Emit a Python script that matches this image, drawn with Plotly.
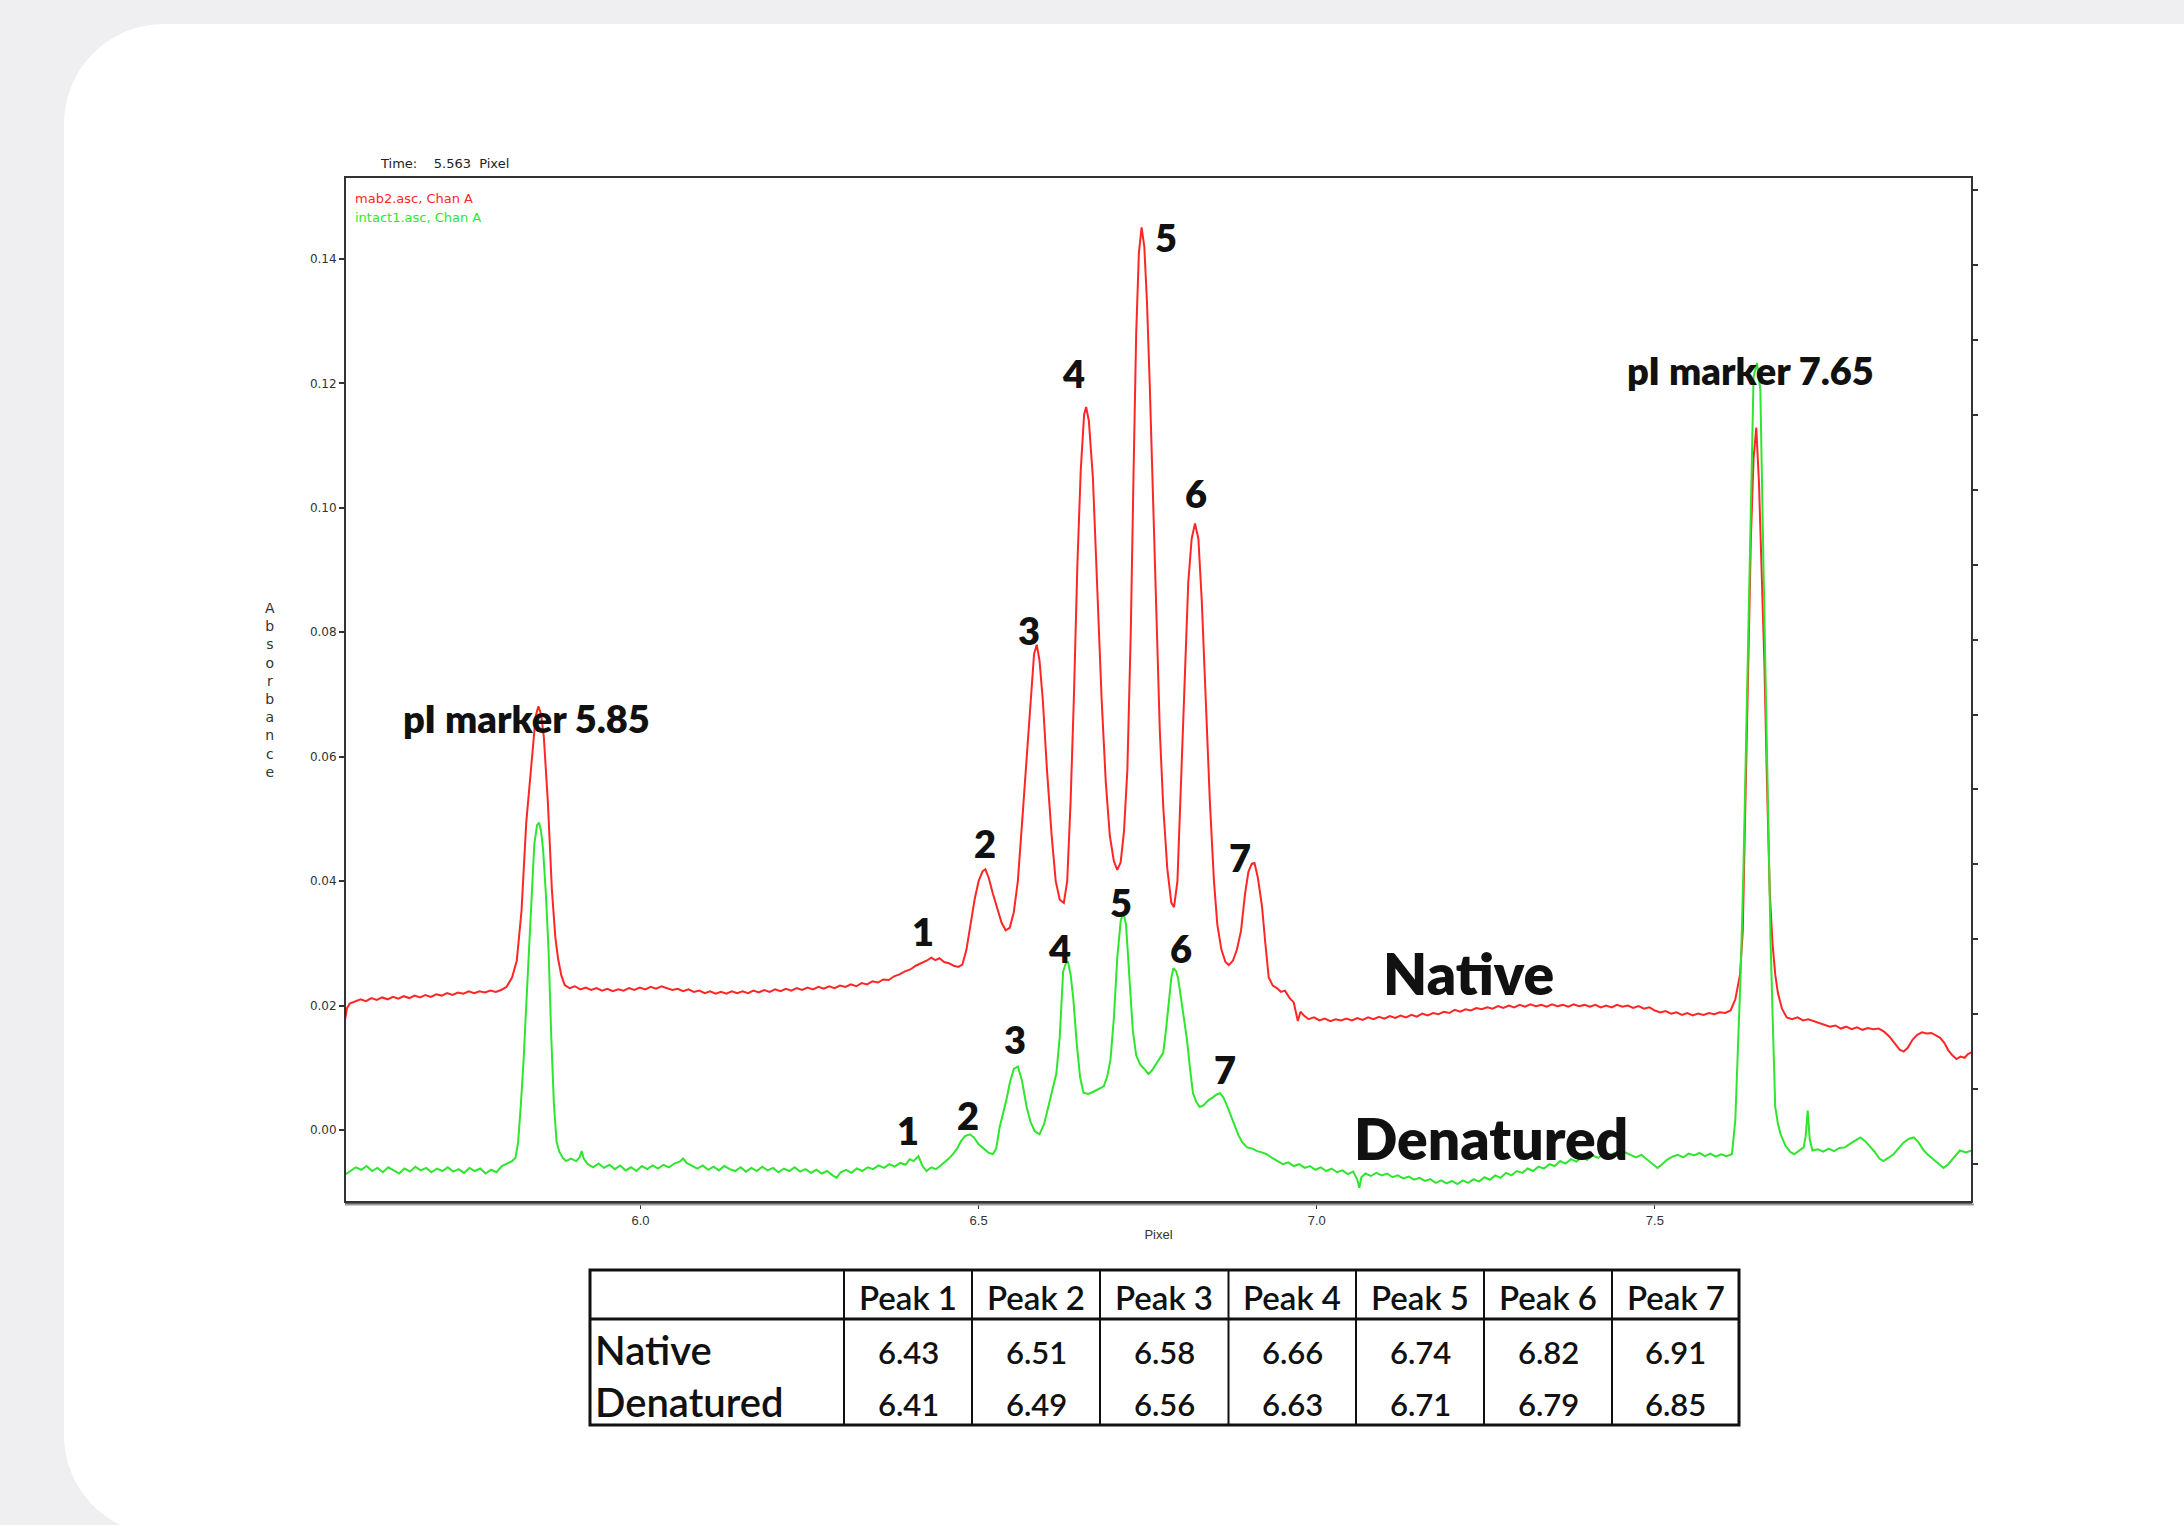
import plotly.graph_objects as go

# ---------------- data ----------------
native_x = [5.563, 5.566, 5.570, 5.578, 5.586, 5.594, 5.602, 5.610, 5.618, 5.626, 5.634, 5.642, 5.650, 5.658,
            5.666, 5.674, 5.682, 5.690, 5.698, 5.706, 5.714, 5.722, 5.730, 5.738, 5.746, 5.754, 5.762, 5.770,
            5.778, 5.786, 5.794, 5.802, 5.810, 5.817, 5.824, 5.831, 5.839, 5.845, 5.849, 5.853, 5.857, 5.863,
            5.869, 5.874, 5.878, 5.883, 5.888, 5.895, 5.903, 5.911, 5.919, 5.927, 5.935, 5.943, 5.951, 5.959,
            5.967, 5.975, 5.983, 5.991, 5.999, 6.007, 6.015, 6.023, 6.031, 6.039, 6.047, 6.055, 6.063, 6.071,
            6.079, 6.087, 6.095, 6.103, 6.111, 6.119, 6.127, 6.135, 6.143, 6.151, 6.159, 6.167, 6.175, 6.183,
            6.191, 6.199, 6.207, 6.215, 6.223, 6.231, 6.239, 6.247, 6.255, 6.263, 6.271, 6.279, 6.287, 6.295,
            6.303, 6.311, 6.319, 6.327, 6.335, 6.343, 6.351, 6.359, 6.367, 6.375, 6.383, 6.391, 6.399, 6.407,
            6.415, 6.423, 6.430, 6.436, 6.442, 6.449, 6.456, 6.463, 6.470, 6.476, 6.482, 6.488, 6.494, 6.500,
            6.506, 6.510, 6.515, 6.521, 6.527, 6.534, 6.540, 6.546, 6.552, 6.558, 6.564, 6.571, 6.577, 6.582,
            6.586, 6.590, 6.595, 6.601, 6.608, 6.614, 6.620, 6.626, 6.631, 6.636, 6.641, 6.646, 6.651, 6.656,
            6.659, 6.663, 6.669, 6.675, 6.682, 6.688, 6.694, 6.700, 6.705, 6.710, 6.715, 6.720, 6.725, 6.729,
            6.733, 6.737, 6.741, 6.745, 6.749, 6.753, 6.758, 6.763, 6.768, 6.773, 6.779, 6.785, 6.789, 6.794,
            6.799, 6.804, 6.810, 6.815, 6.820, 6.825, 6.830, 6.836, 6.842, 6.848, 6.853, 6.859, 6.865, 6.870,
            6.876, 6.882, 6.888, 6.894, 6.899, 6.904, 6.908, 6.913, 6.919, 6.924, 6.929, 6.935, 6.941, 6.947,
            6.953, 6.960, 6.966, 6.972, 6.976, 6.981, 6.988, 6.996, 7.004, 7.012, 7.020, 7.028, 7.036, 7.044,
            7.052, 7.060, 7.068, 7.076, 7.084, 7.092, 7.100, 7.108, 7.116, 7.124, 7.132, 7.140, 7.148, 7.156,
            7.164, 7.172, 7.180, 7.188, 7.196, 7.204, 7.212, 7.220, 7.228, 7.236, 7.244, 7.252, 7.260, 7.268,
            7.276, 7.284, 7.292, 7.300, 7.308, 7.316, 7.324, 7.332, 7.340, 7.348, 7.356, 7.364, 7.372, 7.380,
            7.388, 7.396, 7.404, 7.412, 7.420, 7.428, 7.436, 7.444, 7.452, 7.460, 7.468, 7.476, 7.484, 7.492,
            7.500, 7.508, 7.516, 7.524, 7.532, 7.540, 7.548, 7.556, 7.564, 7.572, 7.580, 7.588, 7.596, 7.604,
            7.612, 7.619, 7.626, 7.630, 7.634, 7.638, 7.642, 7.646, 7.650, 7.654, 7.658, 7.662, 7.666, 7.670,
            7.674, 7.678, 7.682, 7.688, 7.695, 7.703, 7.711, 7.719, 7.727, 7.735, 7.743, 7.751, 7.759, 7.767,
            7.775, 7.783, 7.791, 7.799, 7.807, 7.815, 7.823, 7.831, 7.839, 7.847, 7.855, 7.862, 7.868, 7.874,
            7.881, 7.888, 7.895, 7.902, 7.909, 7.916, 7.922, 7.928, 7.934, 7.940, 7.946, 7.952, 7.958, 7.963,
            7.969]
native_y = [0.0177, 0.0196, 0.0203, 0.0206, 0.0210, 0.0207, 0.0212, 0.0209, 0.0213, 0.0210, 0.0214, 0.0211, 0.0215, 0.0212,
            0.0216, 0.0213, 0.0217, 0.0214, 0.0218, 0.0216, 0.0220, 0.0217, 0.0221, 0.0219, 0.0223, 0.0220, 0.0223, 0.0221,
            0.0224, 0.0222, 0.0225, 0.0230, 0.0245, 0.0272, 0.0352, 0.0494, 0.0600, 0.0665, 0.0681, 0.0668, 0.0632, 0.0527,
            0.0385, 0.0310, 0.0276, 0.0248, 0.0233, 0.0228, 0.0231, 0.0226, 0.0229, 0.0225, 0.0228, 0.0224, 0.0227, 0.0223,
            0.0226, 0.0224, 0.0228, 0.0225, 0.0229, 0.0226, 0.0230, 0.0227, 0.0231, 0.0228, 0.0225, 0.0227, 0.0223, 0.0226,
            0.0222, 0.0224, 0.0220, 0.0223, 0.0219, 0.0222, 0.0219, 0.0223, 0.0220, 0.0223, 0.0220, 0.0224, 0.0221, 0.0225,
            0.0222, 0.0226, 0.0223, 0.0227, 0.0224, 0.0228, 0.0225, 0.0229, 0.0226, 0.0230, 0.0227, 0.0231, 0.0228, 0.0232,
            0.0230, 0.0234, 0.0231, 0.0236, 0.0234, 0.0239, 0.0237, 0.0242, 0.0241, 0.0247, 0.0250, 0.0255, 0.0258, 0.0264,
            0.0268, 0.0272, 0.0277, 0.0273, 0.0276, 0.0270, 0.0268, 0.0264, 0.0262, 0.0266, 0.0290, 0.0330, 0.0370, 0.0400,
            0.0416, 0.0419, 0.0405, 0.0380, 0.0358, 0.0333, 0.0321, 0.0325, 0.0350, 0.0400, 0.0490, 0.0600, 0.0700, 0.0765,
            0.0780, 0.0755, 0.0690, 0.0580, 0.0473, 0.0400, 0.0370, 0.0365, 0.0400, 0.0527, 0.0700, 0.0907, 0.1060, 0.1150,
            0.1162, 0.1140, 0.1048, 0.0880, 0.0690, 0.0560, 0.0473, 0.0432, 0.0418, 0.0430, 0.0480, 0.0580, 0.0800, 0.1050,
            0.1280, 0.1410, 0.1451, 0.1420, 0.1330, 0.1200, 0.1000, 0.0820, 0.0640, 0.0520, 0.0420, 0.0365, 0.0358, 0.0400,
            0.0540, 0.0700, 0.0880, 0.0950, 0.0975, 0.0950, 0.0850, 0.0680, 0.0527, 0.0400, 0.0330, 0.0290, 0.0270, 0.0265,
            0.0272, 0.0290, 0.0320, 0.0380, 0.0415, 0.0428, 0.0429, 0.0405, 0.0360, 0.0300, 0.0245, 0.0232, 0.0228, 0.0222,
            0.0224, 0.0212, 0.0205, 0.0175, 0.0190, 0.0184, 0.0178, 0.0181, 0.0176, 0.0179, 0.0175, 0.0178, 0.0176, 0.0179,
            0.0176, 0.0180, 0.0177, 0.0181, 0.0178, 0.0182, 0.0179, 0.0183, 0.0180, 0.0184, 0.0181, 0.0185, 0.0182, 0.0187,
            0.0184, 0.0188, 0.0186, 0.0190, 0.0188, 0.0193, 0.0190, 0.0194, 0.0192, 0.0196, 0.0194, 0.0197, 0.0195, 0.0199,
            0.0196, 0.0200, 0.0197, 0.0201, 0.0198, 0.0202, 0.0199, 0.0201, 0.0198, 0.0202, 0.0199, 0.0201, 0.0198, 0.0202,
            0.0199, 0.0201, 0.0198, 0.0201, 0.0197, 0.0200, 0.0197, 0.0201, 0.0198, 0.0200, 0.0196, 0.0199, 0.0195, 0.0197,
            0.0192, 0.0189, 0.0191, 0.0187, 0.0189, 0.0185, 0.0188, 0.0184, 0.0187, 0.0185, 0.0188, 0.0186, 0.0189, 0.0188,
            0.0192, 0.0210, 0.0250, 0.0320, 0.0550, 0.0720, 0.0950, 0.1080, 0.1129, 0.1040, 0.0900, 0.0750, 0.0550, 0.0380,
            0.0300, 0.0250, 0.0220, 0.0195, 0.0181, 0.0178, 0.0181, 0.0176, 0.0178, 0.0175, 0.0172, 0.0169, 0.0166, 0.0168,
            0.0163, 0.0166, 0.0162, 0.0165, 0.0161, 0.0164, 0.0162, 0.0163, 0.0158, 0.0150, 0.0138, 0.0129, 0.0126, 0.0132,
            0.0145, 0.0153, 0.0157, 0.0155, 0.0156, 0.0151, 0.0148, 0.0140, 0.0128, 0.0120, 0.0114, 0.0118, 0.0116, 0.0122,
            0.0125]

denatured_x = [5.563, 5.571, 5.579, 5.587, 5.595, 5.603, 5.611, 5.619, 5.627, 5.635, 5.643, 5.651, 5.659, 5.667,
               5.675, 5.683, 5.691, 5.699, 5.707, 5.715, 5.723, 5.731, 5.739, 5.747, 5.755, 5.763, 5.771, 5.779,
               5.787, 5.795, 5.803, 5.810, 5.815, 5.819, 5.823, 5.827, 5.831, 5.835, 5.839, 5.843, 5.847, 5.850,
               5.853, 5.856, 5.860, 5.864, 5.868, 5.872, 5.876, 5.880, 5.885, 5.890, 5.897, 5.905, 5.910, 5.913,
               5.916, 5.922, 5.930, 5.938, 5.946, 5.954, 5.962, 5.970, 5.978, 5.986, 5.994, 6.002, 6.010, 6.018,
               6.026, 6.034, 6.042, 6.050, 6.058, 6.063, 6.068, 6.076, 6.084, 6.092, 6.100, 6.108, 6.116, 6.124,
               6.132, 6.140, 6.148, 6.156, 6.164, 6.172, 6.180, 6.188, 6.196, 6.204, 6.212, 6.220, 6.228, 6.236,
               6.244, 6.252, 6.260, 6.268, 6.276, 6.284, 6.290, 6.296, 6.304, 6.312, 6.320, 6.328, 6.336, 6.344,
               6.352, 6.360, 6.368, 6.376, 6.384, 6.392, 6.398, 6.404, 6.411, 6.417, 6.423, 6.430, 6.437, 6.443,
               6.450, 6.456, 6.462, 6.468, 6.474, 6.480, 6.487, 6.493, 6.500, 6.507, 6.514, 6.521, 6.526, 6.531,
               6.536, 6.541, 6.546, 6.552, 6.558, 6.564, 6.571, 6.577, 6.583, 6.590, 6.597, 6.605, 6.610, 6.615,
               6.620, 6.625, 6.629, 6.632, 6.636, 6.640, 6.645, 6.650, 6.655, 6.662, 6.669, 6.677, 6.685, 6.690,
               6.695, 6.700, 6.705, 6.710, 6.714, 6.718, 6.723, 6.728, 6.733, 6.739, 6.745, 6.751, 6.756, 6.762,
               6.768, 6.773, 6.777, 6.781, 6.785, 6.788, 6.792, 6.795, 6.801, 6.808, 6.813, 6.817, 6.822, 6.827,
               6.833, 6.840, 6.846, 6.852, 6.857, 6.862, 6.867, 6.872, 6.878, 6.884, 6.890, 6.897, 6.905, 6.912,
               6.919, 6.926, 6.934, 6.942, 6.950, 6.958, 6.966, 6.974, 6.982, 6.990, 6.998, 7.006, 7.014, 7.022,
               7.030, 7.038, 7.046, 7.054, 7.060, 7.063, 7.066, 7.072, 7.080, 7.088, 7.096, 7.104, 7.112, 7.120,
               7.128, 7.136, 7.144, 7.152, 7.160, 7.168, 7.176, 7.184, 7.192, 7.200, 7.208, 7.216, 7.224, 7.232,
               7.240, 7.248, 7.256, 7.264, 7.272, 7.280, 7.288, 7.296, 7.304, 7.312, 7.320, 7.328, 7.336, 7.344,
               7.352, 7.360, 7.368, 7.376, 7.384, 7.392, 7.400, 7.408, 7.416, 7.424, 7.432, 7.440, 7.448, 7.456,
               7.464, 7.472, 7.480, 7.488, 7.496, 7.504, 7.510, 7.518, 7.526, 7.534, 7.542, 7.550, 7.558, 7.566,
               7.574, 7.582, 7.590, 7.598, 7.606, 7.614, 7.619, 7.623, 7.627, 7.631, 7.636, 7.641, 7.646, 7.651,
               7.656, 7.661, 7.666, 7.671, 7.675, 7.678, 7.682, 7.686, 7.693, 7.700, 7.706, 7.713, 7.720, 7.723,
               7.726, 7.729, 7.733, 7.741, 7.749, 7.757, 7.765, 7.773, 7.781, 7.789, 7.797, 7.804, 7.811, 7.818,
               7.825, 7.832, 7.838, 7.845, 7.853, 7.860, 7.868, 7.876, 7.883, 7.890, 7.897, 7.903, 7.910, 7.918,
               7.927, 7.934, 7.942, 7.951, 7.960, 7.969]
denatured_y = [-0.0072, -0.0066, -0.0060, -0.0064, -0.0058, -0.0066, -0.0061, -0.0068, -0.0060, -0.0065, -0.0070, -0.0062, -0.0067, -0.0059,
               -0.0065, -0.0061, -0.0068, -0.0062, -0.0066, -0.0060, -0.0067, -0.0063, -0.0069, -0.0061, -0.0066, -0.0062, -0.0070, -0.0064,
               -0.0068, -0.0058, -0.0054, -0.0050, -0.0045, -0.0020, 0.0040, 0.0110, 0.0200, 0.0290, 0.0380, 0.0460, 0.0490, 0.0494,
               0.0480, 0.0450, 0.0380, 0.0290, 0.0150, 0.0040, -0.0020, -0.0035, -0.0045, -0.0050, -0.0046, -0.0050, -0.0044, -0.0034,
               -0.0046, -0.0055, -0.0060, -0.0054, -0.0061, -0.0056, -0.0063, -0.0057, -0.0065, -0.0060, -0.0066, -0.0058, -0.0063, -0.0057,
               -0.0062, -0.0056, -0.0060, -0.0054, -0.0051, -0.0046, -0.0053, -0.0058, -0.0062, -0.0057, -0.0064, -0.0059, -0.0065, -0.0058,
               -0.0063, -0.0066, -0.0060, -0.0067, -0.0061, -0.0066, -0.0059, -0.0065, -0.0061, -0.0068, -0.0062, -0.0066, -0.0060, -0.0067,
               -0.0063, -0.0069, -0.0064, -0.0070, -0.0066, -0.0073, -0.0077, -0.0068, -0.0064, -0.0069, -0.0062, -0.0066, -0.0060, -0.0063,
               -0.0057, -0.0061, -0.0055, -0.0059, -0.0053, -0.0056, -0.0047, -0.0050, -0.0042, -0.0058, -0.0066, -0.0060, -0.0063, -0.0058,
               -0.0052, -0.0046, -0.0039, -0.0030, -0.0018, -0.0010, -0.0007, -0.0012, -0.0023, -0.0030, -0.0036, -0.0039, -0.0030, 0.0004,
               0.0025, 0.0048, 0.0075, 0.0098, 0.0102, 0.0080, 0.0037, 0.0012, -0.0002, -0.0007, 0.0010, 0.0048, 0.0070, 0.0091,
               0.0150, 0.0255, 0.0268, 0.0271, 0.0250, 0.0211, 0.0140, 0.0085, 0.0060, 0.0058, 0.0061, 0.0066, 0.0070, 0.0085,
               0.0113, 0.0180, 0.0276, 0.0335, 0.0350, 0.0330, 0.0250, 0.0160, 0.0120, 0.0105, 0.0098, 0.0090, 0.0095, 0.0105,
               0.0115, 0.0124, 0.0160, 0.0200, 0.0245, 0.0260, 0.0255, 0.0244, 0.0200, 0.0146, 0.0095, 0.0059, 0.0045, 0.0037,
               0.0040, 0.0048, 0.0052, 0.0057, 0.0059, 0.0052, 0.0040, 0.0026, 0.0010, -0.0008, -0.0020, -0.0028, -0.0030, -0.0034,
               -0.0036, -0.0039, -0.0045, -0.0050, -0.0055, -0.0052, -0.0058, -0.0055, -0.0061, -0.0058, -0.0064, -0.0060, -0.0066, -0.0062,
               -0.0068, -0.0065, -0.0071, -0.0067, -0.0080, -0.0093, -0.0076, -0.0070, -0.0074, -0.0069, -0.0073, -0.0070, -0.0076, -0.0073,
               -0.0078, -0.0075, -0.0080, -0.0077, -0.0082, -0.0079, -0.0085, -0.0081, -0.0086, -0.0082, -0.0087, -0.0081, -0.0085, -0.0079,
               -0.0083, -0.0076, -0.0080, -0.0073, -0.0077, -0.0069, -0.0073, -0.0066, -0.0069, -0.0062, -0.0066, -0.0059, -0.0062, -0.0055,
               -0.0058, -0.0050, -0.0054, -0.0047, -0.0051, -0.0044, -0.0048, -0.0041, -0.0045, -0.0039, -0.0043, -0.0037, -0.0041, -0.0036,
               -0.0040, -0.0044, -0.0040, -0.0047, -0.0053, -0.0061, -0.0056, -0.0048, -0.0043, -0.0040, -0.0044, -0.0038, -0.0041, -0.0037,
               -0.0042, -0.0038, -0.0043, -0.0039, -0.0042, -0.0039, 0.0016, 0.0140, 0.0255, 0.0418, 0.0689, 0.0929, 0.1211, 0.1233,
               0.1190, 0.0885, 0.0581, 0.0309, 0.0150, 0.0037, 0.0010, -0.0007, -0.0025, -0.0035, -0.0039, -0.0033, -0.0028, -0.0010,
               0.0031, -0.0015, -0.0033, -0.0031, -0.0035, -0.0030, -0.0034, -0.0029, -0.0028, -0.0022, -0.0016, -0.0012, -0.0018, -0.0027,
               -0.0035, -0.0046, -0.0050, -0.0045, -0.0039, -0.0030, -0.0020, -0.0014, -0.0012, -0.0020, -0.0032, -0.0039, -0.0045, -0.0053,
               -0.0061, -0.0055, -0.0045, -0.0033, -0.0036, -0.0033]

# peak labels on the traces (number, x, y)
peak_numbers = ["1", "2", "3", "4", "5", "6", "7"]
native_label_x = [6.418, 6.509, 6.575, 6.641, 6.777, 6.821, 6.887]
native_label_y = [0.0320, 0.0461, 0.0804, 0.1216, 0.1436, 0.1024, 0.0439]
denatured_label_x = [6.395, 6.484, 6.554, 6.620, 6.710, 6.800, 6.864]
denatured_label_y = [0.0000, 0.0024, 0.0146, 0.0293, 0.0366, 0.0293, 0.0098]

marker_labels = ["pI marker 5.85", "pI marker 7.65"]
marker_label_x = [5.831, 7.642]
marker_label_y = [0.0663, 0.1221]

trace_names = ["Native", "Denatured"]
trace_name_x = [7.224, 7.257]
trace_name_y = [0.0253, -0.0013]

legend_entries = ["mab2.asc, Chan A", "intact1.asc, Chan A"]

# table
table_headers = ["Peak 1", "Peak 2", "Peak 3", "Peak 4", "Peak 5", "Peak 6", "Peak 7"]
table_rows = ["Native", "Denatured"]
native_pI = [6.43, 6.51, 6.58, 6.66, 6.74, 6.82, 6.91]
denatured_pI = [6.41, 6.49, 6.56, 6.63, 6.71, 6.79, 6.85]

# ---------------- layout helpers ----------------
W, H = 2184, 1525
PL, PR, PT, PB = 345, 1972, 177, 1202
XR = [5.563, 7.969]
YR = [-0.01158, 0.15318]


def px(x):
    return (x - PL) / (PR - PL)


def py(y):
    return (PB - y) / (PB - PT)


RED = "#ff2626"
GREEN = "#2ee62e"
AX = "#333333"

fig = go.Figure()
fig.add_trace(go.Scatter(x=native_x, y=native_y, mode="lines", name="Native",
                         line=dict(color=RED, width=2), hoverinfo="skip"))
fig.add_trace(go.Scatter(x=denatured_x, y=denatured_y, mode="lines", name="Denatured",
                         line=dict(color=GREEN, width=2), yaxis="y2", hoverinfo="skip"))

shapes = []
# white card with rounded corners
k = 0.5523 * 100
card = [("M", 64, 124), ("C", 64, 124 - k, 164 - k, 24, 164, 24), ("L", 2400, 24), ("L", 2400, 1535),
        ("L", 164, 1535), ("C", 164 - k, 1535, 64, 1435 + k, 64, 1435), ("Z",)]
path = ""
for seg in card:
    path += seg[0]
    pts = seg[1:]
    for i in range(0, len(pts), 2):
        path += f" {px(pts[i]):.5f},{py(pts[i+1]):.5f}"
    path += " "
shapes.append(dict(type="path", xref="paper", yref="paper", path=path,
                   fillcolor="white", line=dict(width=0), layer="below"))
# plot frame
shapes.append(dict(type="rect", xref="paper", yref="paper", x0=0, x1=1, y0=0, y1=1,
                   line=dict(color=AX, width=2), layer="above"))
shapes.append(dict(type="line", xref="paper", yref="paper", x0=px(PL), x1=px(PR + 2),
                   y0=py(PB + 2.5), y1=py(PB + 2.5), line=dict(color="#9a9a9a", width=2)))

# table lines
TL, TR, TT, TB = 590, 1739, 1270, 1425
THDR = 1319
col_edges = [844, 972, 1100, 1228.5, 1356, 1484, 1612]
shapes.append(dict(type="rect", xref="paper", yref="paper", x0=px(TL), x1=px(TR), y0=py(TB), y1=py(TT),
                   line=dict(color="#111111", width=3)))
shapes.append(dict(type="line", xref="paper", yref="paper", x0=px(TL), x1=px(TR), y0=py(THDR), y1=py(THDR),
                   line=dict(color="#111111", width=3)))
for cx in col_edges:
    shapes.append(dict(type="line", xref="paper", yref="paper", x0=px(cx), x1=px(cx), y0=py(TB), y1=py(TT),
                       line=dict(color="#111111", width=2)))

ann = []
LBL = dict(family="Lato", size=38, color="#111111", weight=800)
for t, x, y in zip(peak_numbers, native_label_x, native_label_y):
    ann.append(dict(x=x, y=y, text=t, showarrow=False, font=LBL, xanchor="center", yanchor="middle"))
for t, x, y in zip(peak_numbers, denatured_label_x, denatured_label_y):
    ann.append(dict(x=x, y=y, text=t, showarrow=False, font=LBL, xanchor="center", yanchor="middle"))
for t, x, y in zip(marker_labels, marker_label_x, marker_label_y):
    ann.append(dict(x=x, y=y, text=t, showarrow=False, font=LBL, xanchor="center", yanchor="middle"))
for t, x, y in zip(trace_names, trace_name_x, trace_name_y):
    ann.append(dict(x=x, y=y, text=t, showarrow=False, xanchor="center", yanchor="middle",
                    font=dict(family="Lato", size=57, color="#111111", weight=800)))

# header text / legend
SMALL = "DejaVu Sans"
ann.append(dict(xref="paper", yref="paper", x=px(378), y=py(163), xanchor="left", yanchor="middle",
                text="Time:\u00a0\u00a0\u00a0 5.563\u00a0 Pixel", showarrow=False,
                font=dict(family=SMALL, size=13, color="#222222")))
for i, (t, c) in enumerate(zip(legend_entries, [RED, GREEN])):
    ann.append(dict(xref="paper", yref="paper", x=px(353), y=py(198 + 19 * i), xanchor="left", yanchor="middle",
                    text=t, showarrow=False, font=dict(family=SMALL, size=13, color=c)))
ann.append(dict(xref="paper", yref="paper", x=px(270), y=py(690), xanchor="center", yanchor="middle",
                text="<br>".join(list("Absorbance")), showarrow=False,
                font=dict(family=SMALL, size=14, color="#333333")))

# table text
TFONT = dict(family="Lato", color="#111111", weight=600)
col_centers = [(a + b) / 2 for a, b in zip(col_edges, col_edges[1:] + [TR])]
for t, cx in zip(table_headers, col_centers):
    ann.append(dict(xref="paper", yref="paper", x=px(cx), y=py(1297), text=t, showarrow=False,
                    xanchor="center", yanchor="middle", font=dict(TFONT, size=33)))
row_y = [1350, 1402]
for name, vals, ry in zip(table_rows, [native_pI, denatured_pI], row_y):
    ann.append(dict(xref="paper", yref="paper", x=px(593), y=py(ry), text=name, showarrow=False,
                    xanchor="left", yanchor="middle", font=dict(TFONT, size=40)))
    for v, cx in zip(vals, col_centers):
        ann.append(dict(xref="paper", yref="paper", x=px(cx), y=py(ry + 2), text=f"{v:.2f}", showarrow=False,
                        xanchor="center", yanchor="middle", font=dict(TFONT, size=31)))

fig.update_layout(
    width=W, height=H, template="none",
    margin=dict(l=PL, r=W - PR, t=PT, b=H - PB, pad=0),
    paper_bgcolor="#efeff1", plot_bgcolor="white",
    showlegend=False,
    shapes=shapes, annotations=ann,
    xaxis=dict(range=XR, tick0=6.0, dtick=0.5, tickformat=".1f", showgrid=False, zeroline=False,
               showline=True, linecolor=AX, linewidth=3, ticks="outside", ticklen=4, tickcolor=AX,
               tickfont=dict(family="Liberation Sans Narrow, Liberation Sans", size=13, color="#333333"),
               title=dict(text="Pixel", font=dict(family="Liberation Sans Narrow, Liberation Sans", size=13,
                                                  color="#333333"), standoff=4),
               automargin=False),
    yaxis=dict(range=YR, tick0=0, dtick=0.02, tickformat=".2f", showgrid=False, zeroline=False,
               showline=False, ticks="outside", ticklen=5, tickcolor=AX, tickwidth=1.5,
               tickfont=dict(family=SMALL, size=12, color="#333333"), automargin=False),
    yaxis2=dict(range=YR, overlaying="y", side="right", tick0=-0.00547, dtick=0.01204,
                showticklabels=False, showgrid=False, zeroline=False, showline=False,
                ticks="outside", ticklen=5, tickcolor=AX, tickwidth=1.5, automargin=False),
)

fig.write_html("out.html")
